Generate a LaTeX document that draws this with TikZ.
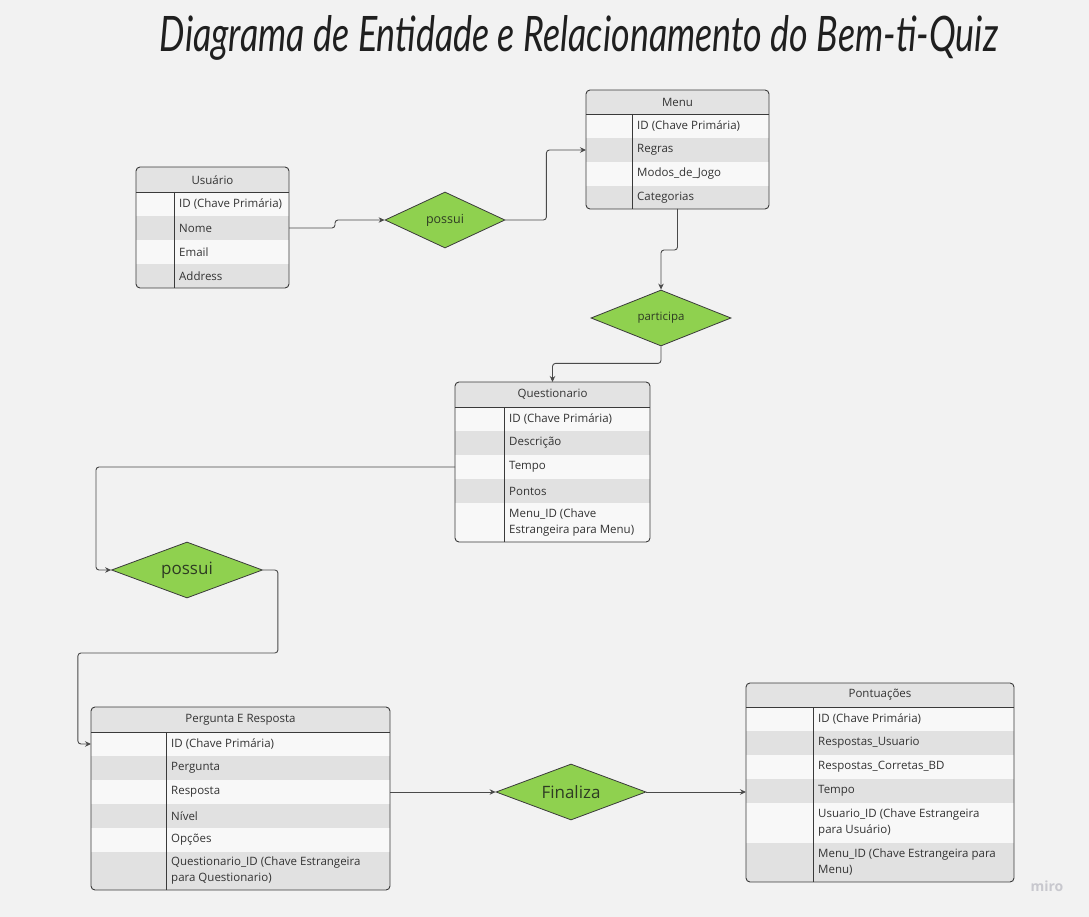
\documentclass[tikz,border=0pt]{standalone}
\usepackage{fontspec}
\usepackage{graphicx}
\setmainfont{Open Sans}
\newfontfamily\titlefont{Lato}
\usetikzlibrary{shapes.geometric,arrows.meta}

\definecolor{bg}{HTML}{F2F2F2}
\definecolor{tabdraw}{HTML}{3A3A3A}
\definecolor{headgray}{HTML}{E3E3E3}
\definecolor{rowlight}{HTML}{F8F8F8}
\definecolor{rowdark}{HTML}{E1E1E1}
\definecolor{txt}{HTML}{333333}
\definecolor{relfill}{HTML}{8FD14F}
\definecolor{reltext}{HTML}{2E3B23}
\definecolor{connc}{HTML}{4A4A4A}
\definecolor{mirogray}{HTML}{C8C8CE}

\tikzset{
  tabline/.style={draw=tabdraw, line width=0.9pt},
  tabframe/.style={tabline, rounded corners=4pt, inner sep=0pt, outer sep=0pt, anchor=north west},
  headfill/.style={fill=headgray},
  rowa/.style={fill=rowlight},
  rowb/.style={fill=rowdark},
  headtext/.style={font=\fontsize{11.5}{13}\selectfont, text=txt, inner sep=0pt},
  field/.style={anchor=west, align=left, inner sep=0pt, text=txt, font=\fontsize{11.5}{16}\selectfont},
  rel/.style={diamond, draw=tabdraw, line width=0.8pt, fill=relfill, inner sep=0pt, minimum height=56pt},
  reltxt/.style={text=reltext, inner sep=0pt},
  conn/.style={draw=connc, line width=0.9pt, rounded corners=3pt, -{Stealth[length=6pt,width=5.5pt]}}
}

\begin{document}
\begin{tikzpicture}[x=1pt, y=-1pt]
  \useasboundingbox (0,0) rectangle (1089,917);
  \fill[bg] (0,0) rectangle (1089,917);

  % title
  \node[anchor=base, inner sep=0pt, text=black!88] (title) at (579,52)
    {\resizebox{838pt}{36pt}{\titlefont\itshape Diagrama de Entidade e Relacionamento do Bem-ti-Quiz}};

  % Usuario
  \begin{scope}
    \clip[rounded corners=4pt] (136,167) rectangle (289,288);
    \fill[headfill] (136,167) rectangle (289,192);
    \foreach \ya/\yb/\rc in {192/216/rowa, 216/240/rowb, 240/264/rowa, 264/288/rowb}
      \fill[\rc] (136,\ya) rectangle (289,\yb);
  \end{scope}
  \node[tabframe, minimum width=153pt, minimum height=121pt] (usuario) at (136,167) {};
  \draw[tabline] (136,192) -- (289,192) (174,192) -- (174,288);
  \node[headtext] (usuario-t) at (212.5,180) {Usuário};
  \node[field] (usuario-id) at (179,204) {ID (Chave Primária)};
  \node[field] (usuario-nome) at (179,228) {Nome};
  \node[field] (usuario-email) at (179,252) {Email};
  \node[field] (usuario-addr) at (179,276) {Address};

  % Menu
  \begin{scope}
    \clip[rounded corners=4pt] (586,90) rectangle (769,209);
    \fill[headfill] (586,90) rectangle (769,114);
    \foreach \ya/\yb/\rc in {114/138/rowa, 138/162/rowb, 162/186/rowa, 186/209/rowb}
      \fill[\rc] (586,\ya) rectangle (769,\yb);
  \end{scope}
  \node[tabframe, minimum width=183pt, minimum height=119pt] (menu) at (586,90) {};
  \draw[tabline] (586,114) -- (769,114) (632,114) -- (632,209);
  \node[headtext] (menu-t) at (677.5,102) {Menu};
  \node[field] (menu-id) at (637,126) {ID (Chave Primária)};
  \node[field] (menu-regras) at (637,150) {Regras};
  \node[field] (menu-modos) at (637,174) {Modos\_de\_Jogo};
  \node[field] (menu-cat) at (637,197.5) {Categorias};

  % Questionario
  \begin{scope}
    \clip[rounded corners=4pt] (455,382) rectangle (650,542);
    \fill[headfill] (455,382) rectangle (650,407);
    \foreach \ya/\yb/\rc in {407/431/rowa, 431/455/rowb, 455/479/rowa, 479/503/rowb, 503/542/rowa}
      \fill[\rc] (455,\ya) rectangle (650,\yb);
  \end{scope}
  \node[tabframe, minimum width=195pt, minimum height=160pt] (quest) at (455,382) {};
  \draw[tabline] (455,407) -- (650,407) (504,407) -- (504,542);
  \node[headtext] (quest-t) at (552.5,394.5) {Questionario};
  \node[field] (quest-id) at (509,419) {ID (Chave Primária)};
  \node[field] (quest-desc) at (509,443) {Descrição};
  \node[field] (quest-tempo) at (509,467) {Tempo};
  \node[field] (quest-pontos) at (509,491) {Pontos};
  \node[field] (quest-menu) at (509,522.5) {Menu\_ID (Chave\\Estrangeira para Menu)};

  % Pergunta E Resposta
  \begin{scope}
    \clip[rounded corners=4pt] (91,707) rectangle (390,890);
    \fill[headfill] (91,707) rectangle (390,732);
    \foreach \ya/\yb/\rc in {732/756/rowa, 756/780/rowb, 780/804/rowa, 804/828/rowb, 828/852/rowa, 852/890/rowb}
      \fill[\rc] (91,\ya) rectangle (390,\yb);
  \end{scope}
  \node[tabframe, minimum width=299pt, minimum height=183pt] (perg) at (91,707) {};
  \draw[tabline] (91,732) -- (390,732) (166,732) -- (166,890);
  \node[headtext] (perg-t) at (240.5,719.5) {Pergunta E Resposta};
  \node[field] (perg-id) at (171,744) {ID (Chave Primária)};
  \node[field] (perg-perg) at (171,768) {Pergunta};
  \node[field] (perg-resp) at (171,792) {Resposta};
  \node[field] (perg-nivel) at (171,816) {Nível};
  \node[field] (perg-opc) at (171,840) {Opções};
  \node[field] (perg-quest) at (171,871) {Questionario\_ID (Chave Estrangeira\\para Questionario)};

  % Pontuacoes
  \begin{scope}
    \clip[rounded corners=4pt] (746,683) rectangle (1014,882);
    \fill[headfill] (746,683) rectangle (1014,707);
    \foreach \ya/\yb/\rc in {707/731/rowa, 731/755/rowb, 755/779/rowa, 779/803/rowb, 803/843/rowa, 843/882/rowb}
      \fill[\rc] (746,\ya) rectangle (1014,\yb);
  \end{scope}
  \node[tabframe, minimum width=268pt, minimum height=199pt] (pont) at (746,683) {};
  \draw[tabline] (746,707) -- (1014,707) (813,707) -- (813,882);
  \node[headtext] (pont-t) at (880,695) {Pontuações};
  \node[field] (pont-id) at (818,719) {ID (Chave Primária)};
  \node[field] (pont-resu) at (818,743) {Respostas\_Usuario};
  \node[field] (pont-resc) at (818,767) {Respostas\_Corretas\_BD};
  \node[field] (pont-tempo) at (818,791) {Tempo};
  \node[field] (pont-usu) at (818,823) {Usuario\_ID (Chave Estrangeira\\para Usuário)};
  \node[field] (pont-menu) at (818,862.5) {Menu\_ID (Chave Estrangeira para\\Menu)};

  % relacionamentos
  \node[rel, minimum width=120pt] (possui1) at (445,220) {};
  \node[reltxt, font=\fontsize{12.5}{14}\selectfont] (possui1-t) at (possui1) {possui};
  \node[rel, minimum width=140pt] (participa) at (661,318) {};
  \node[reltxt, font=\fontsize{11.5}{13}\selectfont] (participa-t) at (participa) {participa};
  \node[rel, minimum width=151pt] (possui2) at (187,570) {};
  \node[reltxt, font=\fontsize{17}{19}\selectfont] (possui2-t) at (possui2) {possui};
  \node[rel, minimum width=150pt] (finaliza) at (571,792) {};
  \node[reltxt, font=\fontsize{17}{19}\selectfont] (finaliza-t) at (finaliza) {Finaliza};

  % ligacoes
  \draw[conn] (usuario.east |- usuario-nome) -- ++(46,0) |- (possui1.west);
  \draw[conn] (possui1.east) -- ++(41,0) |- (menu.west |- menu-regras);
  \draw[conn] (menu.south) -- ++(0,41) -| (participa.north);
  \draw[conn] (participa.south) -- ++(0,17) -| (quest.north);
  \draw[conn] (quest.west |- quest-tempo) -- ++(-359,0) |- (possui2.west);
  \draw[conn] (possui2.east) -- ++(15,0) |- ++(-200,83) |- (perg.west |- perg-id);
  \draw[conn] (perg.east |- finaliza) -- (finaliza.west);
  \draw[conn] (finaliza.east) -- (pont.west |- finaliza);

  \node[font=\bfseries\fontsize{14}{14}\selectfont, text=mirogray] (miro) at (1047,886) {miro};
\end{tikzpicture}
\end{document}
